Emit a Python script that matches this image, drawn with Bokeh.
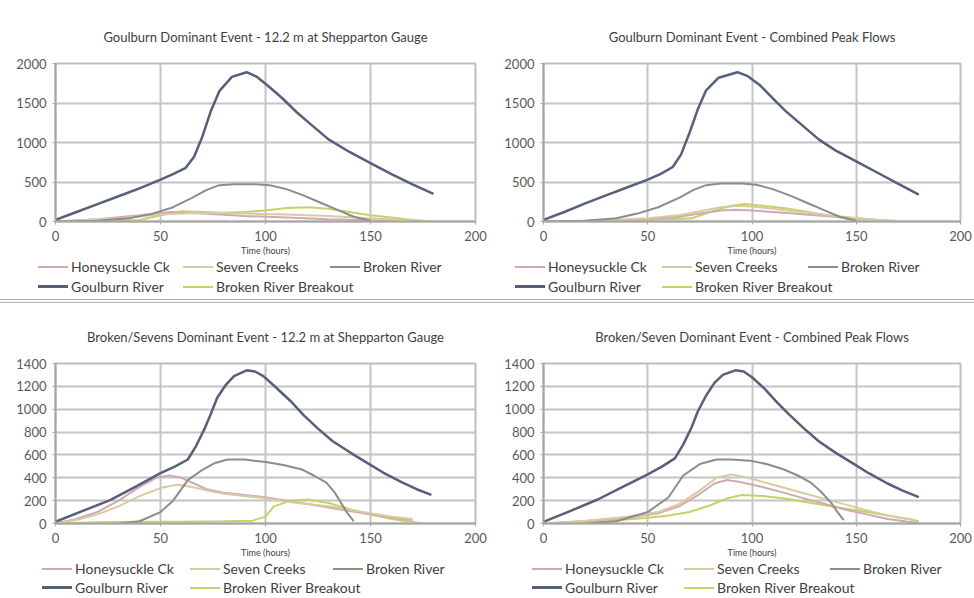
from bokeh.plotting import figure
from bokeh.layouts import row, column
from bokeh.models import FixedTicker, Range1d, Div
from bokeh.embed import file_html
from bokeh.resources import INLINE

FONT = "Lato"
X_TICKS = [0, 50, 100, 150, 200]
TOP_Y_TICKS = [0, 500, 1000, 1500, 2000]
BOT_Y_TICKS = [0, 200, 400, 600, 800, 1000, 1200, 1400]
X_LABEL = "Time (hours)"

SERIES = ["Honeysuckle Ck", "Seven Creeks", "Broken River", "Goulburn River", "Broken River Breakout"]
COLORS = {
    "Honeysuckle Ck": "#d2a9b3",
    "Seven Creeks": "#d6cca2",
    "Broken River": "#8c8c8c",
    "Goulburn River": "#56607a",
    "Broken River Breakout": "#c6d267",
}

# ---- Top-left: Goulburn Dominant Event - 12.2 m at Shepparton Gauge
tl_title = "Goulburn Dominant Event - 12.2 m at Shepparton Gauge"
tl_goulburn_hours = [0, 10, 20, 30, 40, 50, 56, 62, 66, 70, 74, 78, 84, 91, 96, 102, 108, 115, 122, 130, 140, 150, 160, 170, 180]
tl_goulburn_flow = [20, 120, 220, 320, 420, 530, 600, 680, 820, 1080, 1400, 1650, 1830, 1890, 1830, 1700, 1560, 1380, 1220, 1040, 880, 740, 600, 470, 350]
tl_broken_hours = [0, 20, 35, 45, 55, 65, 72, 78, 85, 95, 102, 110, 118, 126, 134, 142, 150]
tl_broken_flow = [0, 10, 40, 90, 170, 300, 400, 460, 470, 470, 460, 410, 330, 240, 150, 60, 10]
tl_breakout_hours = [0, 40, 50, 60, 70, 80, 90, 100, 110, 120, 130, 140, 150, 160, 170, 180]
tl_breakout_flow = [0, 20, 80, 130, 120, 110, 120, 140, 170, 180, 160, 120, 80, 50, 20, 0]
tl_honeysuckle_hours = [0, 20, 40, 55, 70, 90, 110, 130, 150, 170]
tl_honeysuckle_flow = [0, 30, 80, 120, 100, 70, 50, 30, 15, 5]
tl_seven_hours = [0, 30, 50, 70, 90, 110, 130, 150, 170]
tl_seven_flow = [0, 40, 90, 110, 100, 90, 70, 40, 10]

# ---- Top-right: Goulburn Dominant Event - Combined Peak Flows
tr_title = "Goulburn Dominant Event - Combined Peak Flows"
tr_goulburn_hours = [0, 10, 20, 30, 40, 50, 56, 62, 66, 70, 74, 78, 84, 93, 98, 104, 110, 116, 124, 132, 140, 150, 160, 170, 180]
tr_goulburn_flow = [20, 120, 230, 330, 430, 530, 600, 690, 850, 1120, 1420, 1660, 1820, 1890, 1840, 1720, 1560, 1400, 1220, 1040, 900, 760, 620, 480, 340]
tr_broken_hours = [0, 20, 35, 45, 55, 65, 72, 78, 85, 95, 102, 110, 118, 126, 134, 142, 150]
tr_broken_flow = [0, 10, 40, 100, 180, 300, 400, 460, 480, 480, 465, 410, 330, 240, 150, 60, 10]
tr_breakout_hours = [0, 33, 50, 60, 71, 80, 90, 96, 105, 115, 125, 131, 140, 150, 155]
tr_breakout_flow = [0, 5, 20, 30, 40, 120, 200, 220, 200, 170, 130, 100, 60, 20, 0]
tr_honeysuckle_hours = [0, 30, 50, 65, 75, 85, 92, 100, 110, 120, 130, 140, 150, 160, 170]
tr_honeysuckle_flow = [0, 10, 30, 60, 100, 140, 150, 140, 120, 100, 80, 60, 40, 20, 5]
tr_seven_hours = [0, 30, 50, 65, 75, 85, 93, 100, 110, 120, 130, 140, 150, 160, 170]
tr_seven_flow = [0, 15, 40, 80, 130, 180, 200, 190, 160, 130, 100, 70, 45, 20, 5]

# ---- Bottom-left: Broken/Sevens Dominant Event - 12.2 m at Shepparton Gauge
bl_title = "Broken/Sevens Dominant Event - 12.2 m at Shepparton Gauge"
bl_goulburn_hours = [0, 13, 26, 38, 50, 57, 63, 67, 71, 74, 77, 81, 85, 91, 95, 99, 105, 112, 118, 125, 132, 140, 148, 156, 165, 172, 179]
bl_goulburn_flow = [15, 110, 205, 320, 440, 500, 560, 680, 830, 960, 1100, 1210, 1290, 1340, 1330, 1290, 1190, 1070, 950, 830, 720, 625, 535, 446, 360, 300, 250]
bl_broken_hours = [30, 40, 50, 56, 63, 70, 76, 82, 90, 101, 109, 117, 123, 129, 133, 136, 139, 142]
bl_broken_flow = [0, 20, 100, 200, 380, 470, 530, 560, 560, 535, 510, 475, 420, 357, 270, 180, 90, 20]
bl_breakout_hours = [0, 20, 40, 60, 80, 94, 100, 104, 112, 120, 130, 145, 160, 175]
bl_breakout_flow = [0, 10, 15, 15, 20, 25, 60, 150, 200, 210, 180, 100, 40, 0]
bl_honeysuckle_hours = [0, 10, 20, 30, 40, 48, 54, 60, 66, 72, 80, 90, 100, 110, 120, 130, 140, 150, 160, 170]
bl_honeysuckle_flow = [0, 40, 100, 200, 320, 400, 420, 400, 350, 300, 270, 250, 230, 200, 170, 140, 110, 80, 50, 30]
bl_seven_hours = [0, 10, 20, 30, 40, 50, 58, 65, 72, 80, 90, 100, 110, 120, 130, 140, 150, 160, 170]
bl_seven_flow = [0, 30, 80, 150, 240, 310, 340, 320, 290, 260, 240, 220, 190, 170, 150, 120, 90, 60, 40]

# ---- Bottom-right: Broken/Seven Dominant Event - Combined Peak Flows
br_title = "Broken/Seven Dominant Event - Combined Peak Flows"
br_goulburn_hours = [0, 13, 26, 38, 50, 57, 63, 67, 71, 74, 78, 82, 86, 92, 96, 100, 106, 112, 118, 125, 132, 140, 148, 156, 165, 172, 180]
br_goulburn_flow = [15, 110, 210, 320, 430, 500, 570, 690, 840, 980, 1120, 1230, 1300, 1340, 1330, 1280, 1180, 1060, 950, 830, 720, 620, 530, 440, 350, 290, 230]
br_broken_hours = [20, 35, 50, 60, 67, 75, 83, 90, 99, 107, 115, 122, 128, 133, 138, 141, 144]
br_broken_flow = [0, 20, 100, 230, 420, 520, 560, 560, 550, 520, 475, 420, 360, 280, 180, 100, 30]
br_breakout_hours = [0, 30, 50, 60, 70, 80, 88, 95, 105, 115, 125, 135, 145, 155, 165, 175, 180]
br_breakout_flow = [0, 20, 50, 70, 100, 160, 220, 250, 240, 220, 190, 160, 130, 100, 70, 40, 20]
br_honeysuckle_hours = [0, 20, 40, 55, 65, 75, 82, 88, 95, 105, 115, 125, 135, 145, 155, 165, 175, 180]
br_honeysuckle_flow = [0, 20, 50, 90, 150, 260, 350, 380, 360, 320, 270, 220, 170, 120, 80, 40, 15, 5]
br_seven_hours = [0, 20, 40, 55, 65, 75, 83, 90, 98, 108, 118, 128, 138, 148, 158, 168, 178]
br_seven_flow = [0, 25, 60, 100, 170, 290, 400, 430, 400, 350, 300, 250, 200, 150, 100, 60, 30]


def make_chart(title, data, yticks, width, height, mb_left, mb_right, mb_top, mb_bottom,
               title_standoff):
    p = figure(width=width, height=height, output_backend="svg", toolbar_location=None,
               x_range=Range1d(0, 200), y_range=Range1d(0, yticks[-1]),
               min_border_left=mb_left, min_border_right=mb_right,
               min_border_top=mb_top, min_border_bottom=mb_bottom,
               background_fill_color="white", border_fill_color="white",
               outline_line_color="#bdbdbd", outline_line_width=2)
    p.title.text = title
    p.title.align = "center"
    p.title.text_font = FONT
    p.title.text_font_size = "13px"
    p.title.text_font_style = "normal"
    p.title.text_color = "#404040"
    p.title.standoff = title_standoff

    p.xaxis.ticker = FixedTicker(ticks=X_TICKS)
    p.yaxis.ticker = FixedTicker(ticks=yticks)
    p.xaxis.axis_label = X_LABEL
    p.xaxis.axis_label_text_font = FONT
    p.xaxis.axis_label_text_font_size = "9px"
    p.xaxis.axis_label_text_font_style = "normal"
    p.xaxis.axis_label_text_color = "#404040"
    p.xaxis.axis_label_standoff = 1
    for ax in (p.xaxis, p.yaxis):
        ax.major_label_text_font = FONT
        ax.major_label_text_font_size = "13px"
        ax.major_label_text_color = "#595959"
        ax.axis_line_color = "#a6a6a6"
        ax.axis_line_width = 2
        ax.major_tick_line_color = "#a6a6a6"
        ax.major_tick_in = 0
        ax.major_tick_out = 3
        ax.minor_tick_line_color = None
    p.xaxis.major_label_standoff = 6
    p.yaxis.major_label_standoff = 6
    p.xgrid.ticker = FixedTicker(ticks=X_TICKS)
    p.ygrid.ticker = FixedTicker(ticks=yticks)
    p.grid.grid_line_color = "#c4c4c4"
    p.grid.grid_line_width = 2

    for name in ["Broken River Breakout", "Honeysuckle Ck", "Seven Creeks", "Broken River", "Goulburn River"]:
        hx, fy = data[name]
        p.line(hx, fy, line_color=COLORS[name],
               line_width=2.5 if name == "Goulburn River" else 2)
    return p


def make_legend_strip(width, height, cols, row_tops, bottom_rule):
    slots = [(SERIES[0], 0, 0), (SERIES[1], 1, 0), (SERIES[2], 2, 0),
             (SERIES[3], 0, 1), (SERIES[4], 1, 1)]
    parts = []
    for name, c, r in slots:
        lw = 3 if name == "Goulburn River" else 2
        parts.append(
            f'<div style="position:absolute;left:{cols[c]}px;top:{row_tops[r]}px;height:17px;'
            f'display:flex;align-items:center;white-space:nowrap;">'
            f'<span style="display:inline-block;width:30px;height:0;border-top:{lw}px solid {COLORS[name]};'
            f'margin-right:3px;"></span><span>{name}</span></div>'
        )
    rule = ""
    if bottom_rule:
        rule = ('<div style="position:absolute;left:0;right:0;bottom:0;height:0;'
                'border-bottom:4px double #b4b4b4;"></div>')
    html = (f'<div style="position:relative;width:{width}px;height:{height}px;font-family:Lato,sans-serif;'
            f'font-size:14px;line-height:17px;color:#404040;background:white;">' + "".join(parts) + rule + '</div>')
    return Div(text=html, width=width, height=height, margin=(0, 0, 0, 0))


def pack(h_g, f_g, h_b, f_b, h_bo, f_bo, h_h, f_h, h_s, f_s):
    return {
        "Goulburn River": (h_g, f_g),
        "Broken River": (h_b, f_b),
        "Broken River Breakout": (h_bo, f_bo),
        "Honeysuckle Ck": (h_h, f_h),
        "Seven Creeks": (h_s, f_s),
    }


tl = make_chart(tl_title, pack(tl_goulburn_hours, tl_goulburn_flow, tl_broken_hours, tl_broken_flow,
                               tl_breakout_hours, tl_breakout_flow, tl_honeysuckle_hours, tl_honeysuckle_flow,
                               tl_seven_hours, tl_seven_flow),
                TOP_Y_TICKS, 497, 258, 55, 22, 63, 37, 38)
tr = make_chart(tr_title, pack(tr_goulburn_hours, tr_goulburn_flow, tr_broken_hours, tr_broken_flow,
                               tr_breakout_hours, tr_breakout_flow, tr_honeysuckle_hours, tr_honeysuckle_flow,
                               tr_seven_hours, tr_seven_flow),
                TOP_Y_TICKS, 477, 258, 46, 14, 63, 37, 38)
bl = make_chart(bl_title, pack(bl_goulburn_hours, bl_goulburn_flow, bl_broken_hours, bl_broken_flow,
                               bl_breakout_hours, bl_breakout_flow, bl_honeysuckle_hours, bl_honeysuckle_flow,
                               bl_seven_hours, bl_seven_flow),
                BOT_Y_TICKS, 497, 257, 55, 22, 60, 37, 38)
br = make_chart(br_title, pack(br_goulburn_hours, br_goulburn_flow, br_broken_hours, br_broken_flow,
                               br_breakout_hours, br_breakout_flow, br_honeysuckle_hours, br_honeysuckle_flow,
                               br_seven_hours, br_seven_flow),
                BOT_Y_TICKS, 477, 257, 46, 14, 60, 37, 38)

tl_leg = make_legend_strip(497, 45, [38, 183, 330], [0, 20], True)
tr_leg = make_legend_strip(477, 45, [18, 165, 311], [0, 20], True)
bl_leg = make_legend_strip(497, 38, [42, 190, 333], [0, 19], False)
br_leg = make_legend_strip(477, 38, [35, 187, 333], [0, 19], False)

layout = column(row(column(tl, tl_leg), column(tr, tr_leg)),
                row(column(bl, bl_leg), column(br, br_leg)))

open("out.html", "w").write(file_html(layout, INLINE))
